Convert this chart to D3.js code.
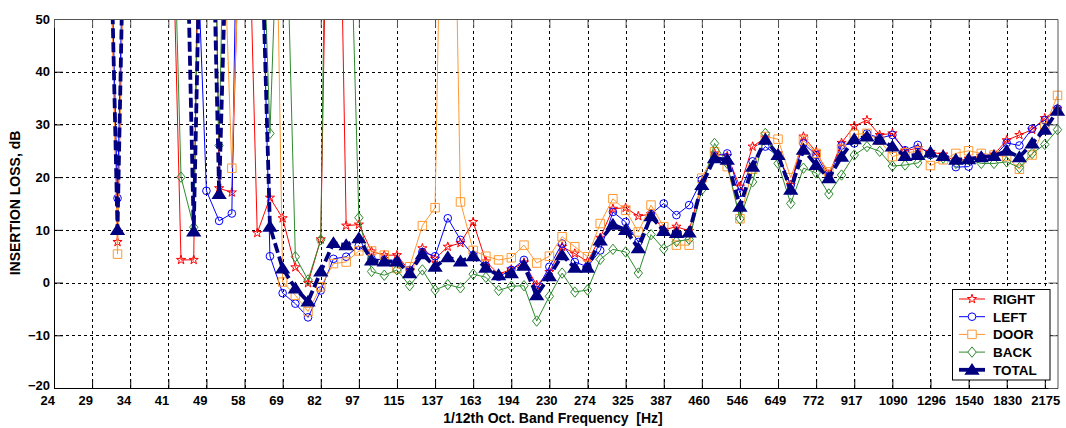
<!DOCTYPE html>
<html>
<head>
<meta charset="utf-8">
<script src="https://cdn.jsdelivr.net/npm/d3@7"></script>
<style>
  body { margin: 0; background: #fff; }
  text { font-family: "Liberation Sans", Arial, sans-serif; font-weight: bold; fill: #000; }
</style>
</head>
<body>
<div id="chart"></div>
<script>
// 1/12 octave bands, index 0 = 24 Hz ... index 79
var tickLabels = ["24", "29", "34", "41", "49", "58", "69", "82", "97", "115", "137", "163", "194",
  "230", "274", "325", "387", "460", "546", "649", "772", "917", "1090", "1296", "1540", "1830", "2175"];
var yTicks = [-20, -10, 0, 10, 20, 30, 40, 50];

// insertion loss, dB (values above 50 run off the top of the plot)
var right = [120, 120, 120, 120, 110, 7.7, 125, 120, 115, 101,
  4.3, 4.3, 200, 17.9, 17.1, 103, 9.4, 16.1, 12.2, 2.9,
  -0.1, 8.2, 150, 10.8, 11.0, 5.9, 5.2, 5.2, 2.2, 6.5,
  4.5, 6.8, 7.5, 11.5, 4.0, 1.6, 2.5, 3.8, -0.5, 2.0,
  6.8, 5.5, 4.0, 8.5, 14.0, 14.2, 12.6, 13.0, 10.0, 10.6,
  9.8, 19.0, 24.5, 24.0, 18.2, 25.8, 27.5, 24.5, 18.5, 27.7,
  24.8, 20.5, 26.5, 29.7, 30.8, 28.0, 28.3, 25.0, 25.5, 24.8,
  24.3, 23.0, 23.5, 24.0, 24.3, 27.0, 28.0, 29.0, 31.2, 33.0];

var left = [120, 120, 120, 120, 112, 16.0, 128, 120, 110, 100,
  90, 82, 17.4, 11.7, 13.1, 160, 100, 5.0, -2.0, -4.0,
  -6.6, -1.5, 4.5, 4.9, 7.0, 4.5, 4.3, 4.0, 2.4, 5.8,
  5.0, 12.2, 8.1, 5.2, 3.2, 1.1, 2.4, 4.3, -1.4, 3.0,
  7.4, 3.9, 3.0, 6.1, 13.4, 11.5, 7.7, 13.0, 15.0, 12.8,
  14.7, 19.5, 24.0, 24.5, 17.0, 23.0, 25.8, 24.0, 18.5, 26.4,
  24.2, 20.0, 26.0, 26.4, 28.3, 27.4, 28.0, 25.1, 26.1, 24.2,
  23.9, 21.9, 22.0, 23.9, 23.9, 26.5, 26.0, 29.2, 30.8, 33.0];

var door = [120, 120, 120, 120, 110, 5.4, 125, 120, 120, 120,
  120, 120, 120, 92, 21.7, 95, 120, 147, 0.1, -2.4,
  -5.5, -0.8, 3.6, 3.9, 6.0, 6.0, 5.2, 2.7, 3.0, 10.8,
  14.2, 150, 15.3, 6.1, 5.0, 4.3, 4.7, 7.1, 3.7, 5.0,
  8.7, 6.8, 4.9, 11.2, 15.9, 13.7, 9.6, 14.7, 10.6, 7.1,
  7.1, 19.8, 24.8, 22.0, 12.1, 21.5, 27.7, 27.2, 19.9, 27.0,
  24.5, 21.0, 25.3, 28.1, 28.3, 27.0, 23.9, 24.6, 24.9, 22.2,
  23.3, 24.5, 25.0, 24.5, 24.2, 23.9, 21.5, 24.2, 29.5, 35.5];

var back = [120, 120, 120, 120, 120, 120, 120, 120, 115, 108,
  20.0, 10.5, 150, 26.0, 150, 120, 100, 28.3, 98, 4.9,
  0.5, 8.1, 185, 99, 12.3, 2.1, 1.4, 2.4, -0.6, 2.4,
  -1.4, -0.4, -1.0, 1.6, 1.0, -1.5, -0.7, -0.6, -7.3, -2.6,
  1.8, -1.8, -1.4, 4.4, 6.3, 5.8, 1.8, 9.1, 6.4, 7.8,
  8.2, 17.6, 26.4, 22.6, 12.1, 19.1, 28.3, 22.6, 15.0, 21.7,
  20.8, 16.8, 20.4, 24.2, 25.8, 24.9, 22.1, 22.3, 22.7, 24.5,
  23.6, 22.6, 23.3, 22.6, 22.6, 22.9, 21.8, 24.5, 26.2, 29.0];

var total = [120, 120, 120, 120, 116, 10.0, 131, 130, 130, 125,
  119, 9.7, 124, 16.8, 103, 100, 95, 10.6, 2.7, -1.1,
  -3.6, 2.1, 7.5, 7.1, 8.4, 4.2, 4.0, 4.0, 1.8, 5.4,
  3.0, 4.8, 4.0, 5.0, 2.8, 1.4, 1.8, 3.2, -2.4, 1.2,
  5.2, 2.8, 2.8, 8.0, 11.0, 10.0, 6.5, 12.6, 9.8, 9.4,
  9.5, 18.5, 23.6, 23.3, 14.4, 22.0, 27.1, 24.2, 17.6, 25.2,
  22.3, 19.8, 23.9, 27.2, 27.7, 27.1, 25.8, 24.0, 24.2, 24.7,
  24.0, 23.3, 23.4, 23.8, 24.0, 25.0, 23.8, 26.4, 29.0, 32.6];

var width = 1066, height = 428;
var plot = {left: 54, right: 1057.5, top: 19, bottom: 388};

var x = d3.scaleLinear().domain([0, 79]).range([plot.left, plot.right]);
var y = d3.scaleLinear().domain([-20, 50]).range([plot.bottom, plot.top]);

var markers = {
  star: d3.symbol(d3.symbolStar, 26)(),
  circle: d3.symbol(d3.symbolCircle, 46)(),
  square: d3.symbol(d3.symbolSquare, 72)(),
  diamond: "M0,-5.2L4.2,0L0,5.2L-4.2,0Z",
  triangle: "M0,-5.5L6.3,4.3L-6.3,4.3Z"
};

var series = [
  {name: "RIGHT", values: right, color: "#ff0000", marker: "star", width: 1, fill: "none"},
  {name: "LEFT", values: left, color: "#0000ff", marker: "circle", width: 1, fill: "none"},
  {name: "DOOR", values: door, color: "#ff9933", marker: "square", width: 1, fill: "none"},
  {name: "BACK", values: back, color: "#2e8b2e", marker: "diamond", width: 1, fill: "none"},
  {name: "TOTAL", values: total, color: "#000080", marker: "triangle", width: 3.8, fill: "#000080", dash: "10,4"}
];

var svg = d3.select("#chart").append("svg")
  .attr("width", width)
  .attr("height", height);

svg.append("rect").attr("width", width).attr("height", height).attr("fill", "#fff");

svg.append("clipPath").attr("id", "clip")
  .append("rect")
  .attr("x", plot.left).attr("y", plot.top)
  .attr("width", plot.right - plot.left).attr("height", plot.bottom - plot.top);

// grid
var tickIdx = tickLabels.map(function (d, i) { return i * 3; });
var grid = svg.append("g").attr("stroke", "#000").attr("stroke-dasharray", "3,3").attr("stroke-width", 1);
grid.selectAll(".gx").data(tickIdx.slice(1))
  .join("line")
  .attr("x1", d => Math.round(x(d)) + 0.5).attr("x2", d => Math.round(x(d)) + 0.5)
  .attr("y1", plot.top).attr("y2", plot.bottom);
grid.selectAll(".gy").data(yTicks.slice(1, -1))
  .join("line")
  .attr("x1", plot.left).attr("x2", plot.right)
  .attr("y1", d => Math.round(y(d)) + 0.5).attr("y2", d => Math.round(y(d)) + 0.5);

// data
var line = d3.line().x((d, i) => x(i)).y(d => y(d));
var dataG = svg.append("g");

series.forEach(function (s) {
  var g = dataG.append("g");
  g.append("path")
    .attr("clip-path", "url(#clip)")
    .attr("d", line(s.values))
    .attr("fill", "none")
    .attr("stroke", s.color)
    .attr("stroke-width", s.width)
    .attr("stroke-dasharray", s.dash || null);
  g.selectAll("path.m")
    .data(s.values.map((v, i) => ({v: v, i: i})).filter(d => d.v <= 50 && d.v >= -20))
    .join("path")
    .attr("class", "m")
    .attr("transform", d => "translate(" + x(d.i) + "," + y(d.v) + ")")
    .attr("d", markers[s.marker])
    .attr("fill", s.fill)
    .attr("stroke", s.color)
    .attr("stroke-width", s.marker === "triangle" ? 1.5 : 1);
});

// axes
var xAxis = d3.axisBottom(x)
  .tickValues(tickIdx)
  .tickFormat(d => tickLabels[d / 3])
  .tickSizeInner(-9).tickSizeOuter(0).tickPadding(8);
var gx = svg.append("g").attr("transform", "translate(0," + plot.bottom + ")").call(xAxis);
gx.selectAll("text").attr("text-anchor", "start").attr("x", -14).style("font-size", "13px");

var yAxis = d3.axisLeft(y)
  .tickValues(yTicks)
  .tickSizeInner(-9).tickSizeOuter(0).tickPadding(4);
var gy = svg.append("g").attr("transform", "translate(" + plot.left + ",0)").call(yAxis);
gy.selectAll("text").style("font-size", "13px");
gy.selectAll(".tick").filter(d => d === -20).select("text").attr("dy", "0.1em");

svg.append("g").attr("transform", "translate(0," + plot.top + ")")
  .call(d3.axisTop(x).tickValues(tickIdx).tickSizeInner(-9).tickSizeOuter(0).tickFormat(""))
  .attr("color", "#555");
svg.append("g").attr("transform", "translate(" + plot.right + ",0)")
  .call(d3.axisRight(y).tickValues(yTicks).tickSizeInner(-9).tickSizeOuter(0).tickFormat(""))
  .attr("color", "#555");
gx.select(".domain").attr("stroke", "#000");
gy.select(".domain").attr("stroke", "#000");

// axis titles
svg.append("text")
  .attr("x", 553).attr("y", 423)
  .attr("text-anchor", "middle")
  .style("font-size", "14px")
  .style("white-space", "pre")
  .text("1/12th Oct. Band Frequency  [Hz]");

svg.append("text")
  .attr("transform", "translate(20,203) rotate(-90)")
  .attr("text-anchor", "middle")
  .style("font-size", "14px")
  .text("INSERTION LOSS, dB");

// legend
var legend = svg.append("g");
legend.append("rect")
  .attr("x", 952.5).attr("y", 289.5).attr("width", 97.5).attr("height", 90.5)
  .attr("fill", "#fff").attr("stroke", "#000");
var items = legend.selectAll("g.item").data(series).join("g")
  .attr("transform", (d, i) => "translate(0," + (299 + i * 17.7) + ")");
items.append("line")
  .attr("x1", 959).attr("x2", 985)
  .attr("stroke", d => d.color).attr("stroke-width", d => d.width);
items.append("path")
  .attr("transform", "translate(972,0)")
  .attr("d", d => markers[d.marker])
  .attr("fill", d => d.marker === "triangle" ? d.color : "#fff")
  .attr("stroke", d => d.color)
  .attr("stroke-width", d => d.marker === "triangle" ? 1.5 : 1);
items.append("text")
  .attr("x", 993).attr("dy", "0.36em")
  .style("font-size", "13.5px")
  .text(d => d.name);
</script>
</body>
</html>
